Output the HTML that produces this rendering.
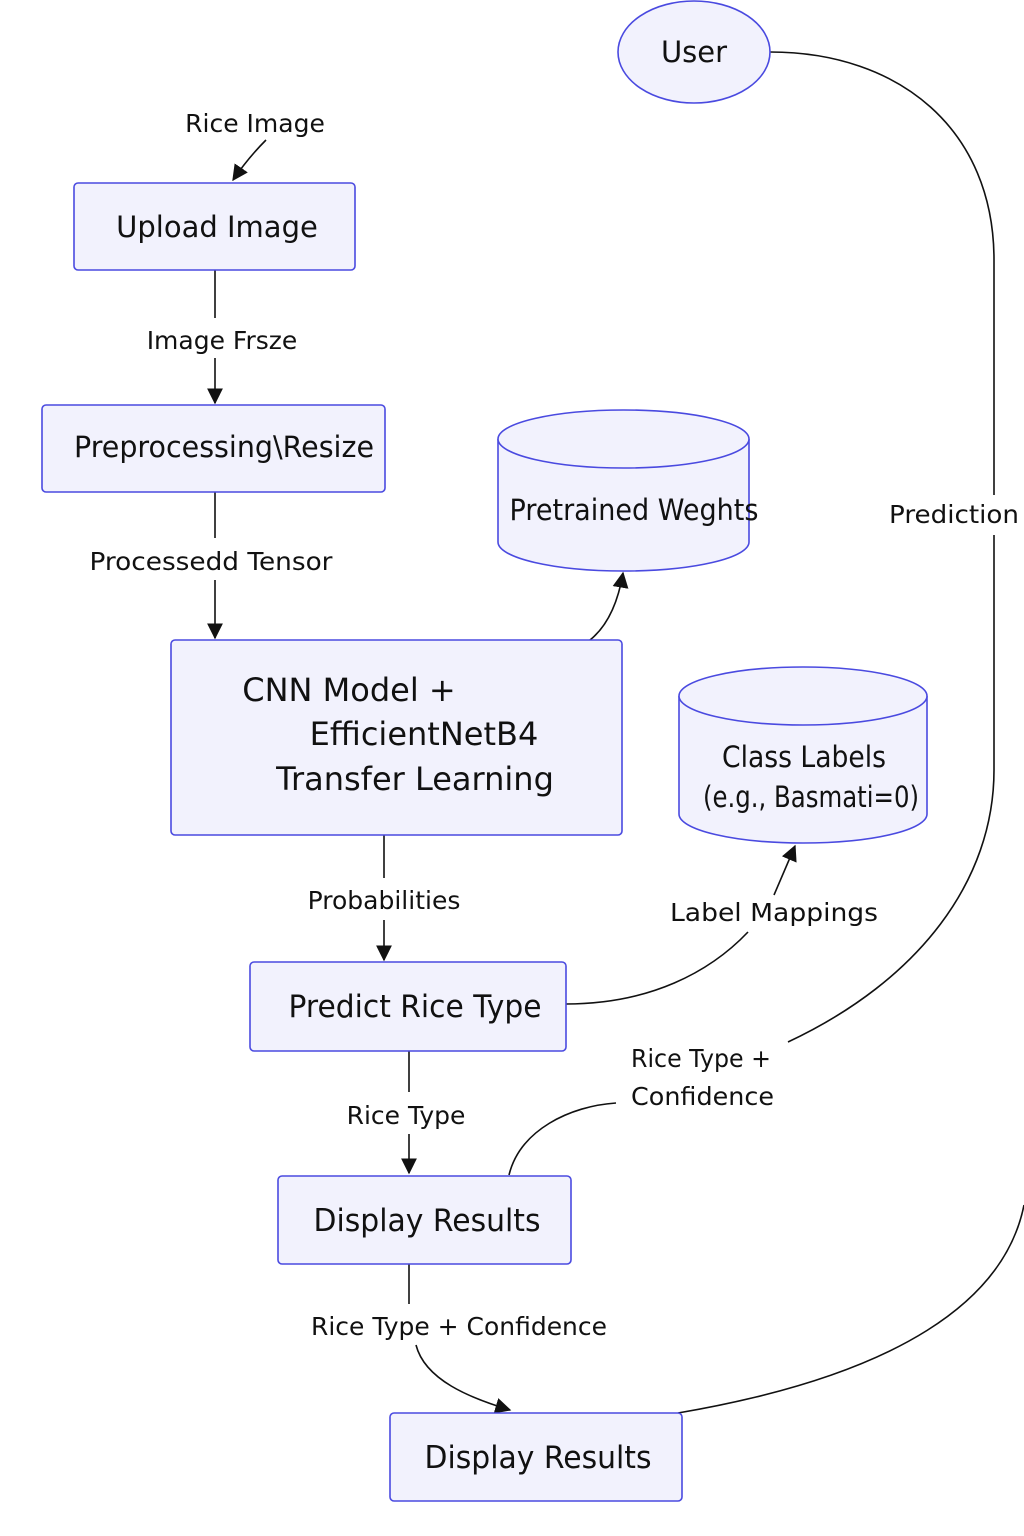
<!DOCTYPE html>
<html><head><meta charset="utf-8"><style>
html,body{margin:0;padding:0;background:#fff;}
svg{display:block;}
text{font-family:"DejaVu Sans","Liberation Sans",sans-serif;fill:#111;}
.n{fill:#f2f2fd;stroke:#4a4ae0;stroke-width:1.6;}
.e{fill:none;stroke:#111;stroke-width:1.6;}
.lbl{font-size:25px;}
.nt{font-size:29px;}
</style></head><body>
<svg width="1024" height="1536" viewBox="0 0 1024 1536" xmlns="http://www.w3.org/2000/svg">
<defs>
<marker id="b" viewBox="0 0 12 12" refX="11" refY="6" markerWidth="16" markerHeight="16" orient="auto" markerUnits="userSpaceOnUse"><path d="M0,0 L12,6 L0,12 z" fill="#111"/></marker></defs>

<!-- edges -->
<path class="e" d="M266,140 Q248,158 233,180" marker-end="url(#b)"/>
<path class="e" d="M215,270 V318 M215,358 V403" marker-end="url(#b)"/>
<path class="e" d="M215,492 V538 M215,580 V638" marker-end="url(#b)"/>
<path class="e" d="M590,640 Q615,620 623,573" marker-end="url(#b)"/>
<path class="e" d="M384,835 V878 M384,920 V960" marker-end="url(#b)"/>
<path class="e" d="M566,1004 C650,1004 710,972 748,932" />
<path class="e" d="M774,895 L795,846" marker-end="url(#b)"/>
<path class="e" d="M409,1051 V1092 M409,1134 V1173" marker-end="url(#b)"/>
<path class="e" d="M509,1175 C520,1130 570,1106 616,1103"/>
<path class="e" d="M788,1042 C920,980 994,880 994,770 V535 M994,495 V260 C994,130 900,52 770,52"/>
<path class="e" d="M409,1264 V1304"/>
<path class="e" d="M416,1345 C425,1380 470,1398 510,1410" marker-end="url(#b)"/>
<path class="e" d="M678,1413 C900,1375 1005,1300 1024,1205"/>

<!-- nodes -->
<ellipse class="n" cx="694" cy="52" rx="76" ry="51"/>
<text class="nt" x="694" y="62" text-anchor="middle">User</text>

<rect class="n" x="74" y="183" width="281" height="87" rx="4"/>
<text class="nt" x="217" y="237" text-anchor="middle">Upload Image</text>

<rect class="n" x="42" y="405" width="343" height="87" rx="4"/>
<text class="nt" x="224" y="457" text-anchor="middle" textLength="300" lengthAdjust="spacingAndGlyphs">Preprocessing\Resize</text>

<rect class="n" x="171" y="640" width="451" height="195" rx="4"/>
<text x="349" y="701" text-anchor="middle" style="font-size:32px">CNN Model +</text>
<text x="424" y="745" text-anchor="middle" style="font-size:32px">EfficientNetB4</text>
<text x="415" y="790" text-anchor="middle" style="font-size:32px">Transfer Learning</text>

<path class="n" d="M498,439 V542 A125.5,29 0 0 0 749,542 V439"/>
<ellipse class="n" cx="623.5" cy="439" rx="125.5" ry="29"/>
<text class="nt" x="634" y="520" text-anchor="middle" textLength="249" lengthAdjust="spacingAndGlyphs">Pretrained Weghts</text>

<path class="n" d="M679,696 V814 A124,29 0 0 0 927,814 V696"/>
<ellipse class="n" cx="803" cy="696" rx="124" ry="29"/>
<text class="nt" x="804" y="767" text-anchor="middle" textLength="164" lengthAdjust="spacingAndGlyphs">Class Labels</text>
<text class="nt" x="811" y="807" text-anchor="middle" textLength="216" lengthAdjust="spacingAndGlyphs">(e.g., Basmati=0)</text>

<rect class="n" x="250" y="962" width="316" height="89" rx="4"/>
<text x="415" y="1017" text-anchor="middle" style="font-size:31px" textLength="253" lengthAdjust="spacingAndGlyphs">Predict Rice Type</text>

<rect class="n" x="278" y="1176" width="293" height="88" rx="4"/>
<text x="427" y="1231" text-anchor="middle" style="font-size:31px" textLength="227" lengthAdjust="spacingAndGlyphs">Display Results</text>

<rect class="n" x="390" y="1413" width="292" height="88" rx="4"/>
<text x="538" y="1468" text-anchor="middle" style="font-size:31px" textLength="227" lengthAdjust="spacingAndGlyphs">Display Results</text>

<!-- labels -->
<text class="lbl" x="255" y="132" text-anchor="middle">Rice Image</text>
<text class="lbl" x="222" y="349" text-anchor="middle">Image Frsze</text>
<text class="lbl" x="211" y="570" text-anchor="middle" textLength="243" lengthAdjust="spacingAndGlyphs">Processedd Tensor</text>
<text class="lbl" x="384" y="909" text-anchor="middle">Probabilities</text>
<text class="lbl" x="774" y="921" text-anchor="middle" textLength="208" lengthAdjust="spacingAndGlyphs">Label Mappings</text>
<text class="lbl" x="954" y="523" text-anchor="middle" textLength="130" lengthAdjust="spacingAndGlyphs">Prediction</text>
<text class="lbl" x="631" y="1067" textLength="140" lengthAdjust="spacingAndGlyphs">Rice Type +</text>
<text class="lbl" x="631" y="1105" textLength="143" lengthAdjust="spacingAndGlyphs">Confidence</text>
<text class="lbl" x="406" y="1124" text-anchor="middle">Rice Type</text>
<text class="lbl" x="459" y="1335" text-anchor="middle" textLength="296" lengthAdjust="spacingAndGlyphs">Rice Type + Confidence</text>
</svg>
</body></html>
